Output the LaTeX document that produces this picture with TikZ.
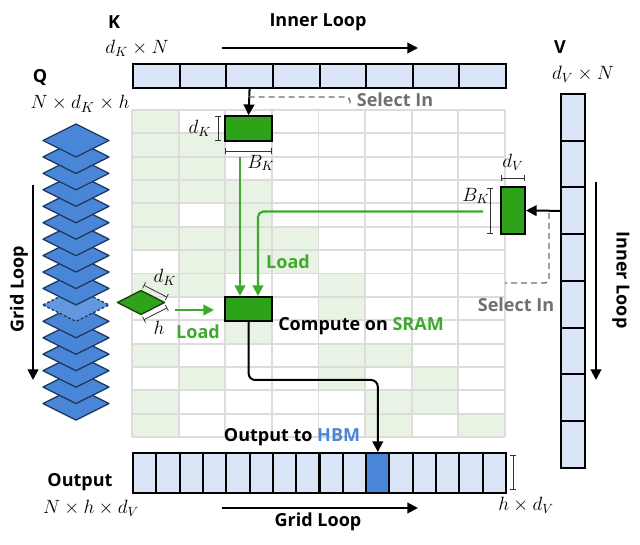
\documentclass[tikz,border=0pt]{standalone}
\usepackage{fontspec}
\setsansfont{Open Sans}
\usetikzlibrary{arrows.meta,calc}
\definecolor{barblue}{HTML}{DAE6F7}
\definecolor{qblue}{HTML}{4A86D8}
\definecolor{qlight}{HTML}{6198E0}
\definecolor{qedge}{HTML}{1F3A60}
\definecolor{blkgreen}{HTML}{2CA319}
\definecolor{lgreen}{HTML}{3DAA2E}
\definecolor{cellshade}{HTML}{E9F3E4}
\definecolor{gridgray}{HTML}{DCDCDC}
\definecolor{selgray}{HTML}{707070}
\definecolor{rhedge}{HTML}{1A4010}
\begin{document}
\begin{tikzpicture}[x=0.75pt,y=-0.75pt,
  lbl/.style={font=\sffamily\bfseries\fontsize{13.5}{16}\selectfont, inner sep=0pt},
  mth/.style={font=\fontsize{14.7}{17}\selectfont, inner sep=0pt},
  glbl/.style={lbl, text=lgreen},
  slbl/.style={lbl, text=selgray},
  arr/.style={line width=1.5pt, -{Triangle[length=8pt,width=8pt]}},
  garr/.style={line width=1.6pt, draw=lgreen, -{Triangle[length=8pt,width=8pt]}},
  dashg/.style={line width=1.1pt, draw=selgray, dash pattern=on 4.5pt off 3pt},
  dim/.style={line width=0.6pt, draw=black!80, {Bar[width=5pt]}-{Bar[width=5pt]}},
  kcell/.style={draw, line width=1.5pt, fill=barblue, minimum width=34.97pt, minimum height=18pt, inner sep=0pt, anchor=north west},
  vcell/.style={draw, line width=1.5pt, fill=barblue, minimum width=18pt, minimum height=35.06pt, inner sep=0pt, anchor=north west},
  ocell/.style={draw, line width=1.5pt, fill=barblue, minimum width=17.48pt, minimum height=30pt, inner sep=0pt, anchor=north west},
  blk/.style={draw, line width=1.5pt, fill=blkgreen, inner sep=0pt},
  qdia/.style={draw=qedge, line width=1pt, fill=qblue, line join=round},
  qdash/.style={draw=qedge, line width=1pt, fill=qlight, dash pattern=on 2pt off 1.5pt, line join=round}
]
\useasboundingbox (0,0) rectangle (640,545);
\fill[white] (0,0) rectangle (640,545);

% ---- grid shading
\foreach \c/\r in {0/0,0/1,0/2,0/3,0/4,0/5,0/7,0/10,0/12,0/13,
  1/1,1/2,1/3,1/5,1/6,1/7,1/11,
  2/3,2/4,2/5,2/6,2/9,
  3/5,3/6,
  4/7,4/8,4/10,4/11,
  5/10,5/12,5/13,
  6/11,6/12,
  7/13}{
  \fill[fill=cellshade] ({132+46.625*\c},{110+23.357*\r}) rectangle ({132+46.625*(\c+1)},{110+23.357*(\r+1)});
}
\foreach \i in {0,...,8}{
  \draw[gridgray, line width=1.4pt] ({132+46.625*\i},110) -- ({132+46.625*\i},437);
}
\foreach \j in {0,...,14}{
  \draw[gridgray, line width=1.4pt] (132,{110+23.357*\j}) -- (505,{110+23.357*\j});
}

% ---- K bar
\foreach \i in {0,...,7}{
  \node[kcell] (k\i) at ({132+46.625*\i},63) {};
}
\node[lbl] (Klbl) at (114,22) {K};
\node[mth] (Kdim) at (137,48) {$d_K\times N$};
\node[lbl] (innerK) at (318,22) {Inner Loop};
\coordinate (ikA) at (222,48);
\coordinate (ikB) at (418,48);
\draw[arr] (ikA) -- (ikB);

% ---- V bar
\foreach \i in {0,...,7}{
  \node[vcell] (v\i) at (560,{93+46.75*\i}) {};
}
\node[lbl] (Vlbl) at (560,47) {V};
\node[mth] (Vdim) at (583,74) {$d_V\times N$};
\node[lbl, rotate=-90] (innerV) at (621,280) {Inner Loop};
\coordinate (ivA) at (596,182);
\coordinate (ivB) at (596,380);
\draw[arr] (ivA) -- (ivB);

% ---- Output bar
\foreach \i in {0,...,15}{
  \node[ocell] (o\i) at ({132+23.3125*\i},452) {};
}
\node[ocell, fill=qblue] (o10) at ({132+23.3125*10},452) {};
\node[lbl] (Olbl) at (80,482) {Output};
\node[mth] (Odim) at (91,508) {$N\times h\times d_V$};
\node[lbl] (gridO) at (318,522) {Grid Loop};
\coordinate (goA) at (222,508);
\coordinate (goB) at (418,508);
\draw[arr] (goA) -- (goB);
\coordinate (hdA) at (513,455);
\coordinate (hdB) at (513,490);
\draw[dim] (hdA) -- (hdB);
\node[mth] (hdlbl) at (526,505) {$h\times d_V$};

% ---- Q stack
\node[lbl] (Qlbl) at (40,78) {Q};
\node[mth, font=\fontsize{15.3}{18}\selectfont] (Qdim) at (80,104) {$N\times d_K\times h$};
\foreach \i in {16,15,...,0}{
  \pgfmathsetmacro\cy{140.5+16.44*\i}
  \ifnum\i=10
    \draw[qdash] (43,\cy) -- (76,{\cy-16.5}) -- (109,\cy) -- (76,{\cy+16.5}) -- cycle;
  \else
    \draw[qdia] (43,\cy) -- (76,{\cy-16.5}) -- (109,\cy) -- (76,{\cy+16.5}) -- cycle;
  \fi
}
\node[lbl, rotate=90] (gridQ) at (19,289) {Grid Loop};
\coordinate (gqA) at (33,185);
\coordinate (gqB) at (33,380);
\draw[arr] (gqA) -- (gqB);

% ---- K block
\node[blk, minimum width=35pt, minimum height=18.5pt] (kblk) at (248.6,128.5) {};
\coordinate (dkA) at (218,116.5);
\coordinate (dkB) at (218,140.5);
\draw[dim] (dkA) -- (dkB);
\node[mth] (dklbl) at (200,128) {$d_K$};
\coordinate (bkA) at (225.3,151);
\coordinate (bkB) at (271.9,151);
\draw[dim] (bkA) -- (bkB);
\node[mth] (bklbl) at (261,163) {$B_K$};
\draw[arr] (k2.south) -- (kblk.north);
\coordinate (s1a) at (248.6,97);
\coordinate (s1b) at (350,97);
\coordinate (s1c) at (350,106);
\draw[dashg, rounded corners=3pt] (s1a) -- (s1b) -- (s1c);
\node[slbl] (sel1) at (395,100) {Select In};

% ---- V block
\node[blk, minimum width=18pt, minimum height=35pt] (vblk) at (513,210.5) {};
\coordinate (dvA) at (501,178);
\coordinate (dvB) at (525,178);
\draw[dim] (dvA) -- (dvB);
\node[mth] (dvlbl) at (513,162) {$d_V$};
\coordinate (bvA) at (490,188);
\coordinate (bvB) at (490,234);
\draw[dim] (bvA) -- (bvB);
\node[mth] (bvlbl) at (476,196) {$B_K$};
\draw[arr] (v2.west) -- (vblk.east);
\coordinate (s2a) at (549,213);
\coordinate (s2b) at (549,283);
\coordinate (s2c) at (505,283);
\draw[dashg, rounded corners=3pt] (s2a) -- (s2b) -- (s2c);
\node[slbl] (sel2) at (516,305) {Select In};

% ---- compute block
\node[blk, minimum width=35pt, minimum height=18pt] (cblk) at (248.6,309) {};
\coordinate (g1a) at (240,157);
\coordinate (g1b) at (240,296);
\draw[garr] (g1a) -- (g1b);
\coordinate (g2a) at (483,211.5);
\coordinate (g2b) at (258,211.5);
\coordinate (g2c) at (258,296);
\draw[garr, rounded corners=4pt] (g2a) -- (g2b) -- (g2c);
\node[glbl] (load1) at (288,262) {Load};
\node[lbl, anchor=west] (comp) at (278,326) {Compute on \textcolor{lgreen}{SRAM}};

% ---- Q tile
\coordinate (rL) at (117.5,302.5);
\coordinate (rT) at (141,290.5);
\coordinate (rR) at (164.5,302.5);
\coordinate (rB) at (141,314.5);
\draw[line width=1pt, draw=rhedge, fill=blkgreen, line join=round] (rL) -- (rT) -- (rR) -- (rB) -- cycle;
\draw[dim] ($(rT)+(2.7,-5.3)$) -- ($(rR)+(2.7,-5.3)$);
\draw[dim] ($(rB)+(2.7,5.3)$) -- ($(rR)+(2.7,5.3)$);
\node[mth] (rdk) at (165,277) {$d_K$};
\node[mth] (rh) at (159,328) {$h$};
\coordinate (g3a) at (175,310);
\coordinate (g3b) at (214,310);
\draw[garr] (g3a) -- (g3b);
\node[glbl] (load2) at (198,332) {Load};

% ---- output path
\coordinate (turn) at (0,380);
\draw[arr, rounded corners=5pt] (cblk.south) -- (cblk.south |- turn) -- (o10.north |- turn) -- (o10.north);
\node[lbl] (outto) at (292,437) {Output to \textcolor{qblue}{HBM}};
\end{tikzpicture}
\end{document}
